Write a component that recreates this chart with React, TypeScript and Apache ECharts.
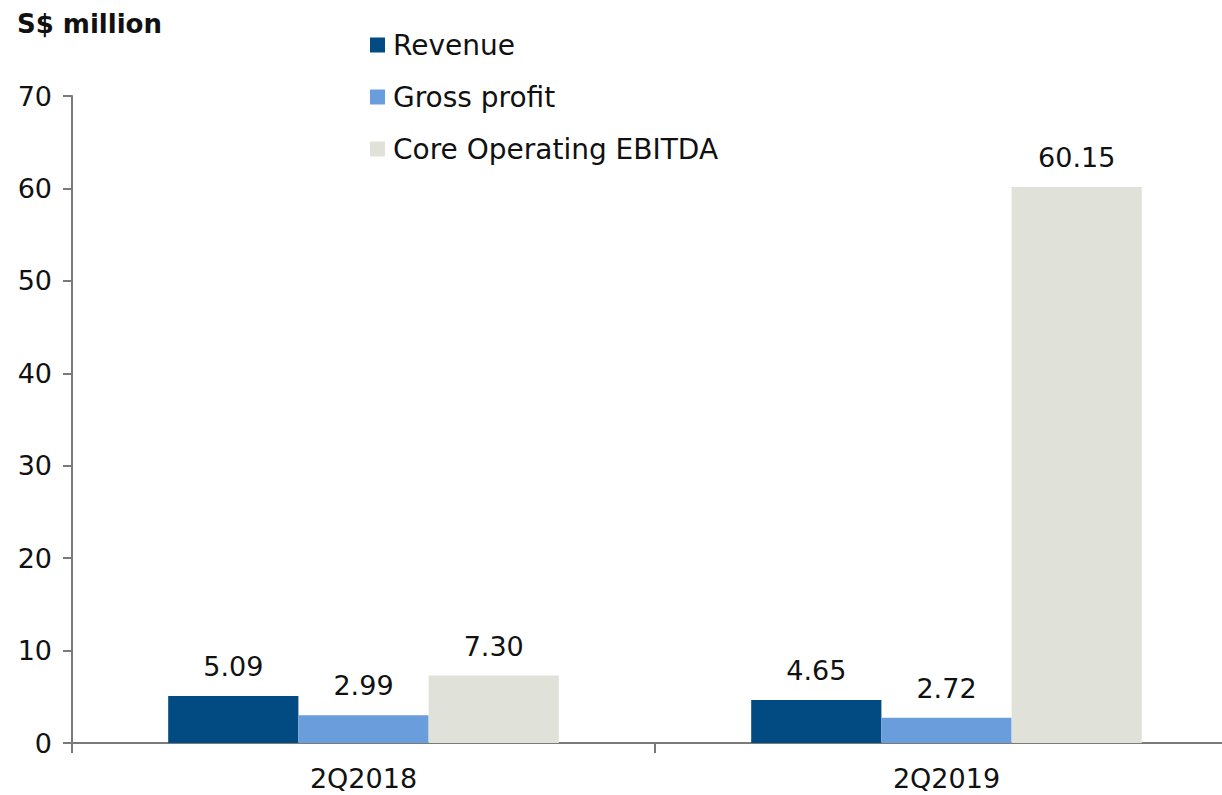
import React, { useEffect, useRef } from "react";
import * as echarts from "echarts";

const categories = ["2Q2018", "2Q2019"];
const seriesNames = ["Revenue", "Gross profit", "Core Operating EBITDA"];
const revenue = [5.09, 4.65];
const grossProfit = [2.99, 2.72];
const coreEbitda = [7.3, 60.15];
const colors = ["#024A82", "#6A9DDB", "#E0E2DA"];
const unitLabel = "S$ million";

export default function App() {
  const ref = useRef<HTMLDivElement>(null);
  useEffect(() => {
    if (!ref.current) return;
    const chart = echarts.init(ref.current, null, { renderer: "svg" });
    const font = "DejaVu Sans";
    const values = [revenue, grossProfit, coreEbitda];
    chart.setOption({
      animation: false,
      textStyle: { fontFamily: font },
      title: {
        text: unitLabel,
        left: 12,
        top: 6,
        textStyle: { fontFamily: font, fontSize: 26, fontWeight: "bold", color: "#111" },
      },
      legend: {
        orient: "vertical",
        left: 365,
        top: 24,
        itemWidth: 15,
        itemHeight: 15,
        itemGap: 20,
        icon: "rect",
        data: seriesNames,
        textStyle: { fontFamily: font, fontSize: 28, color: "#111", lineHeight: 32, padding: [0, 0, 0, 3] },
      },
      grid: { left: 72, top: 96, width: 1166, height: 647, containLabel: false },
      xAxis: {
        type: "category",
        data: categories,
        axisLine: { lineStyle: { color: "#7a7a7a", width: 2 } },
        axisTick: { show: true, length: 10, lineStyle: { color: "#7a7a7a", width: 2 } },
        axisLabel: { fontFamily: font, fontSize: 27, color: "#111", margin: 22 },
      },
      yAxis: {
        type: "value",
        min: 0,
        max: 70,
        interval: 10,
        splitLine: { show: false },
        axisLine: { show: true, lineStyle: { color: "#7a7a7a", width: 2 } },
        axisTick: { show: true, length: 9, lineStyle: { color: "#7a7a7a", width: 2 } },
        axisLabel: { fontFamily: font, fontSize: 27, color: "#111", margin: 20 },
      },
      series: seriesNames.map((name, i) => ({
        name,
        type: "bar",
        data: values[i],
        barGap: "0%",
        barCategoryGap: "33%",
        itemStyle: { color: colors[i] },
        label: {
          show: true,
          position: "top",
          distance: 16,
          fontFamily: font,
          fontSize: 27,
          color: "#111",
          formatter: (p: any) => Number(p.value).toFixed(2),
        },
      })),
    });
    return () => chart.dispose();
  }, []);
  return (
    <div style={{ position: "absolute", left: 0, top: 0, width: 1222, height: 795, overflow: "hidden", background: "#fff" }}>
      <div ref={ref} style={{ width: 1260, height: 795 }} />
    </div>
  );
}
